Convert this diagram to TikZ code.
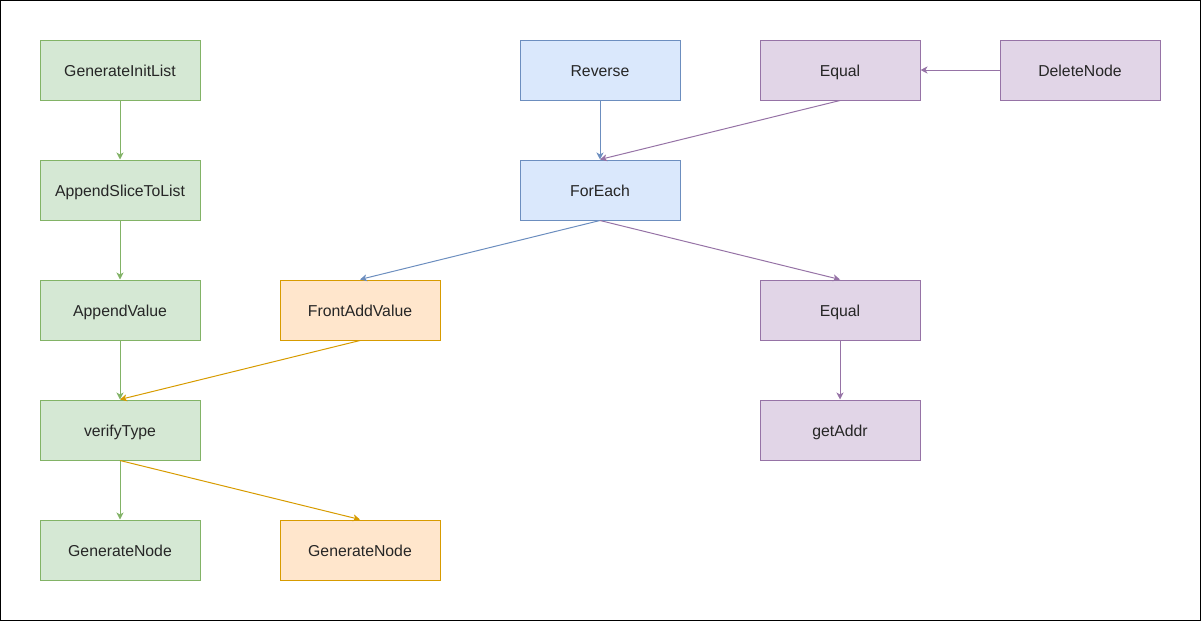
\documentclass[tikz,border=0pt]{standalone}
\usepackage{fontspec}
\setmainfont{Liberation Sans}
\usetikzlibrary{arrows.meta}
\definecolor{gfill}{HTML}{D5E8D4}\definecolor{gline}{HTML}{82B366}
\definecolor{ofill}{HTML}{FFE6CC}\definecolor{oline}{HTML}{D79B00}
\definecolor{bfill}{HTML}{DAE8FC}\definecolor{bline}{HTML}{6C8EBF}
\definecolor{pfill}{HTML}{E1D5E7}\definecolor{pline}{HTML}{9673A6}
\tikzset{
  box/.style={draw, line width=1pt, minimum width=160pt, minimum height=60pt, inner sep=0pt, text height=12pt, text depth=0pt, font=\fontsize{15.8pt}{18pt}\selectfont, text=black!85},
  gbox/.style={box, fill=gfill, draw=gline},
  obox/.style={box, fill=ofill, draw=oline},
  bbox/.style={box, fill=bfill, draw=bline},
  pbox/.style={box, fill=pfill, draw=pline},
  conn/.style={line width=1pt, -{Stealth[length=7pt,width=7pt,inset=2pt]}},
}
\begin{document}
\begin{tikzpicture}[x=1pt,y=-1pt]
\useasboundingbox (0,0) rectangle (1201,621);
\draw[black, line width=1pt] (0.5,0.5) rectangle (1200.5,620.5);
\node[gbox] (gil) at (120,70) {GenerateInitList};
\node[gbox] (asl) at (120,190) {AppendSliceToList};
\node[gbox] (av) at (120,310) {AppendValue};
\node[gbox] (vt) at (120,430) {verifyType};
\node[gbox] (gn1) at (120,550) {GenerateNode};
\node[obox] (fav) at (360,310) {FrontAddValue};
\node[obox] (gn2) at (360,550) {GenerateNode};
\node[bbox] (rev) at (600,70) {Reverse};
\node[bbox] (fe) at (600,190) {ForEach};
\node[pbox] (eq1) at (840,70) {Equal};
\node[pbox] (del) at (1080,70) {DeleteNode};
\node[pbox] (eq2) at (840,310) {Equal};
\node[pbox] (ga) at (840,430) {getAddr};
\draw[conn, gline] (gil.south) -- (asl.north);
\draw[conn, gline] (asl.south) -- (av.north);
\draw[conn, gline] (av.south) -- (vt.north);
\draw[conn, gline] (vt.south) -- (gn1.north);
\draw[conn, oline] (fav.south) -- (vt.north);
\draw[conn, oline] (vt.south) -- (gn2.north);
\draw[conn, bline] (rev.south) -- (fe.north);
\draw[conn, pline] (eq1.south) -- (fe.north);
\draw[conn, pline] (del.west) -- (eq1.east);
\draw[conn, bline] (fe.south) -- (fav.north);
\draw[conn, pline] (fe.south) -- (eq2.north);
\draw[conn, pline] (eq2.south) -- (ga.north);
\end{tikzpicture}
\end{document}
